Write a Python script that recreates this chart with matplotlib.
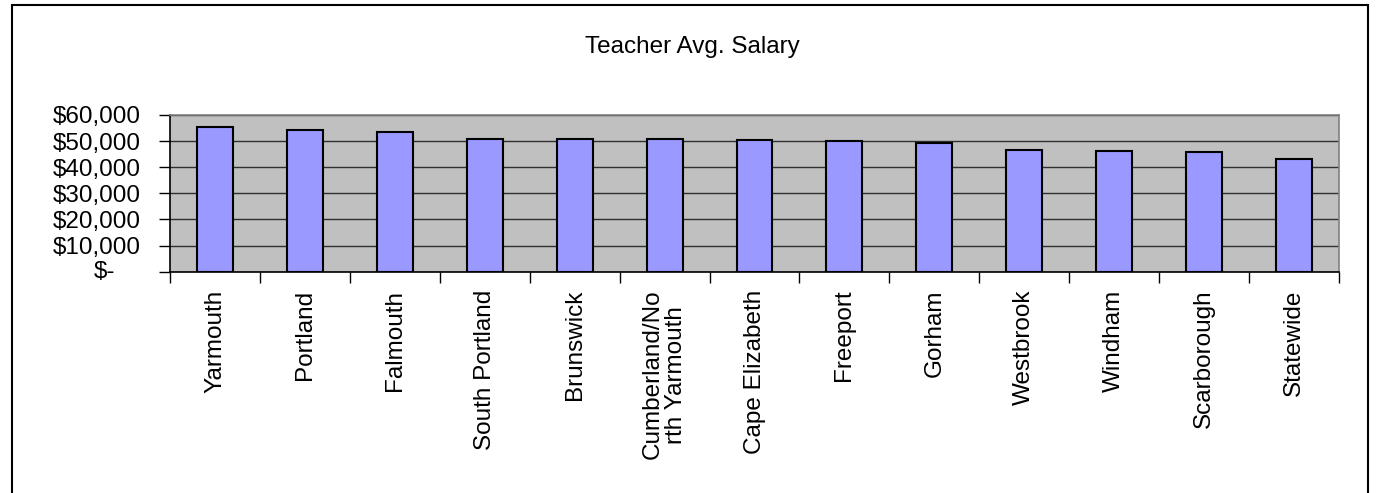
import numpy as np
import matplotlib.pyplot as plt
from matplotlib.patches import Rectangle
from matplotlib.transforms import blended_transform_factory

plt.rcParams['font.family'] = ['Liberation Sans', 'DejaVu Sans']

towns = ["Yarmouth", "Portland", "Falmouth", "South Portland", "Brunswick",
         "Cumberland/No\nrth Yarmouth", "Cape Elizabeth", "Freeport", "Gorham",
         "Westbrook", "Windham", "Scarborough", "Statewide"]
salary = [55400, 54400, 53600, 50900, 50700, 50700, 50300, 50150, 49400,
          46450, 46200, 45700, 43100]
yticks = [0, 10000, 20000, 30000, 40000, 50000, 60000]

W, H = 1376, 493
FS = 17.5
fig = plt.figure(figsize=(W / 100, H / 100), dpi=100)
ax = fig.add_axes([170 / W, 1 - 271.7 / H, (1339 - 170) / W, (271.7 - 115) / H])

x = np.arange(len(towns))
ax.set_facecolor('#C0C0C0')
ax.bar(x, salary, width=0.4, color='#9999FF', edgecolor='black', linewidth=1.5, zorder=3)

ax.set_xlim(-0.5, len(towns) - 0.5)
ax.set_ylim(0, 60000)
ax.set_yticks(yticks)
ax.set_yticklabels(["" if v == 0 else f"${v:,}" for v in yticks], fontsize=FS)
ax.yaxis.grid(True, color='#303030', linewidth=1, zorder=1)

# zero shown accounting style
ax.text(115 / W, 0, "$-", transform=blended_transform_factory(fig.transFigure, ax.transData),
        ha='right', va='center', fontsize=FS)

# ticks between categories, labels at centres
ax.set_xticks(np.arange(len(towns) + 1) - 0.5)
ax.set_xticklabels([])
ax.set_xticks(x, minor=True)
ax.set_xticklabels(towns, minor=True, rotation=90, fontsize=FS, va='top', ha='center',
                   linespacing=1.05)
ax.tick_params(axis='x', which='minor', length=0, pad=13)
ax.tick_params(axis='x', which='major', length=8, width=1, color='black')
ax.tick_params(axis='y', length=8, width=1, pad=13)

for s in ['top', 'right']:
    ax.spines[s].set_color('#808080')
    ax.spines[s].set_linewidth(1.2)
for s in ['left', 'bottom']:
    ax.spines[s].set_color('black')
    ax.spines[s].set_linewidth(1.2)

fig.text(692 / W, 1 - 47 / H, "Teacher Avg. Salary", ha='center', va='center', fontsize=FS)

fig.add_artist(Rectangle((12 / W, -0.1), (1368 - 12) / W, 1 - 5 / H + 0.1,
                         transform=fig.transFigure, fill=False, edgecolor='black',
                         linewidth=1.5))

fig.savefig('out.png', dpi=100)
